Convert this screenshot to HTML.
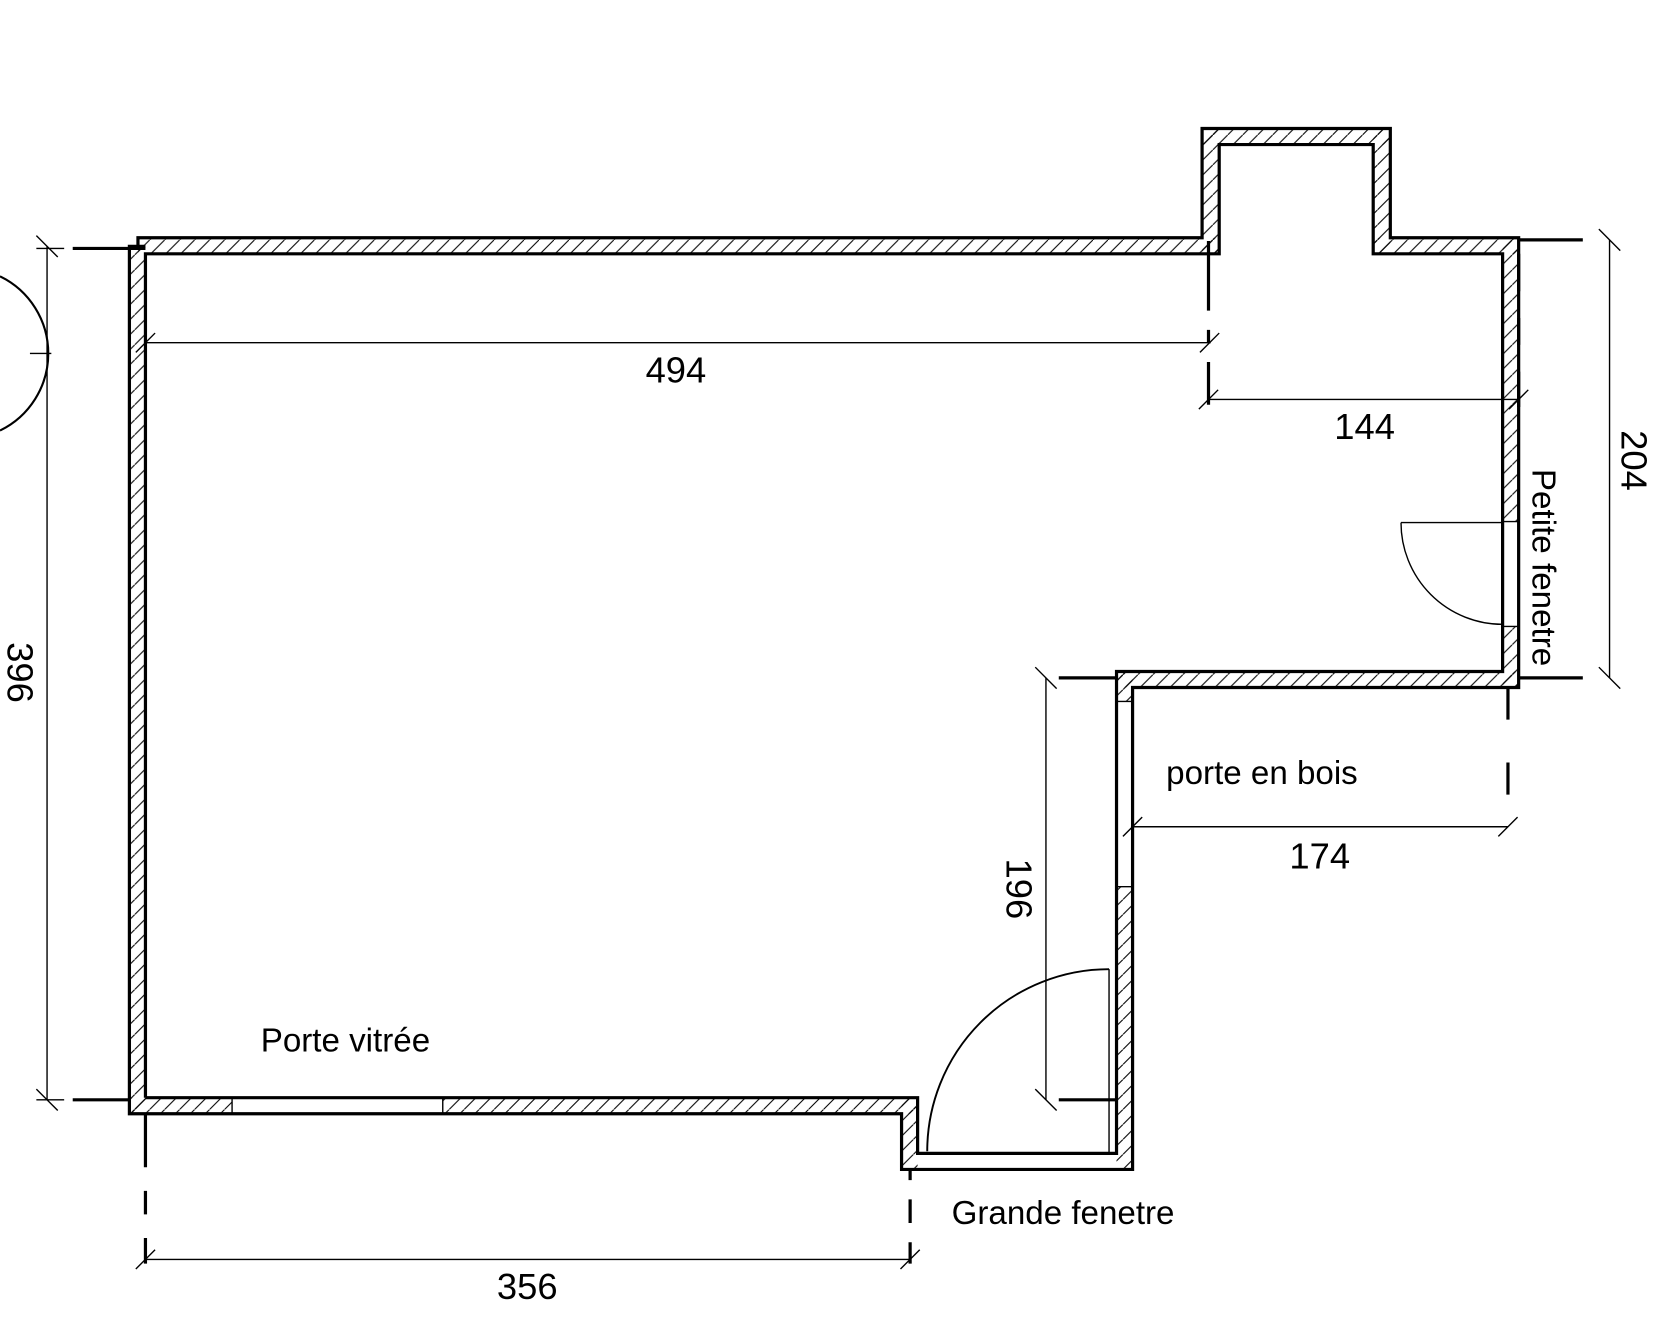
<!DOCTYPE html>
<html><head><meta charset="utf-8"><style>
html,body{margin:0;padding:0;background:#fff;}
svg{display:block;}
text{font-family:"Liberation Sans","DejaVu Sans",sans-serif;fill:#000;}
</style></head><body>
<svg width="1678" height="1344" viewBox="0 0 1569 1255" preserveAspectRatio="none" xmlns="http://www.w3.org/2000/svg">
<defs>
<pattern id="h" width="14" height="14" patternUnits="userSpaceOnUse">
<line x1="0" y1="14" x2="14" y2="0" stroke="#000" stroke-width="1"/>
</pattern>
</defs>
<rect width="1569" height="1255" fill="#fff"/>
<g fill="url(#h)" stroke="none">
<rect x="129" y="222" width="1011" height="15"/>
<rect x="121" y="230" width="15" height="810"/>
<rect x="1124" y="120" width="16" height="117"/>
<rect x="1124" y="120" width="176" height="15"/>
<rect x="1284" y="120" width="16" height="117"/>
<rect x="1284" y="222" width="136" height="15"/>
<rect x="1405" y="222" width="15" height="265"/>
<rect x="1405" y="585" width="15" height="57"/>
<rect x="1044" y="627" width="376" height="15"/>
<rect x="1044" y="627" width="15" height="28"/>
<rect x="1044" y="828" width="15" height="264"/>
<rect x="121" y="1025" width="96" height="15"/>
<rect x="414" y="1025" width="444" height="15"/>
<rect x="843" y="1025" width="15" height="67"/>
</g>
<g fill="none" stroke="#000" stroke-width="3" stroke-linejoin="miter">
<polyline points="129,230 129,222 1124,222 1124,120 1300,120 1300,222 1420,222 1420,642 1059,642 1059,1092 843,1092 843,1040 121,1040 121,230 136,230"/>
<polyline points="136,1025 136,237 1140,237 1140,135 1284,135 1284,237 1405,237 1405,627 1044,627 1044,1077 858,1077 858,1025 136,1025"/>
</g>
<g fill="none" stroke="#000" stroke-width="1.3">
<line x1="217" y1="1025" x2="217" y2="1040"/><line x1="414" y1="1025" x2="414" y2="1040"/>
<line x1="1405" y1="487" x2="1420" y2="487"/><line x1="1405" y1="585" x2="1420" y2="585"/>
<line x1="1044" y1="655" x2="1059" y2="655"/><line x1="1044" y1="828" x2="1059" y2="828"/>
<line x1="858" y1="1077" x2="1044" y2="1077"/>
<line x1="1310" y1="488" x2="1405" y2="488"/>
<path d="M1310,488 A95,95 0 0 0 1405,583"/>
<line x1="1037" y1="905" x2="1037" y2="1077"/>
<path d="M1037,905 A170,170 0 0 0 867,1075" stroke-width="1.8"/>
<line x1="44" y1="230" x2="44" y2="1027"/>
<line x1="34" y1="220" x2="54" y2="240"/><line x1="34" y1="1017" x2="54" y2="1037"/>
<line x1="34" y1="232" x2="60" y2="232"/><line x1="34" y1="1027" x2="60" y2="1027"/>
<line x1="28" y1="330" x2="48" y2="330"/>
<path d="M0,258 A80,80 0 0 1 0,402" stroke-width="2"/>
<line x1="136" y1="320" x2="1132" y2="320"/>
<line x1="127" y1="329" x2="145" y2="311"/><line x1="1122" y1="329" x2="1140" y2="311"/>
<line x1="1130" y1="373" x2="1420" y2="373"/>
<line x1="1121" y1="382" x2="1139" y2="364"/><line x1="1411" y1="382" x2="1429" y2="364"/>
<line x1="1505" y1="224" x2="1505" y2="633"/>
<line x1="1495" y1="214" x2="1515" y2="234"/><line x1="1495" y1="623" x2="1515" y2="643"/>
<line x1="1059" y1="772" x2="1410" y2="772"/>
<line x1="1050" y1="781" x2="1068" y2="763"/><line x1="1401" y1="781" x2="1419" y2="763"/>
<line x1="978" y1="633" x2="978" y2="1027"/>
<line x1="968" y1="623" x2="988" y2="643"/><line x1="968" y1="1017" x2="988" y2="1037"/>
<line x1="136" y1="1176" x2="851" y2="1176"/>
<line x1="127" y1="1185" x2="145" y2="1167"/><line x1="842" y1="1185" x2="860" y2="1167"/>
</g>
<g stroke="#000" stroke-width="3" fill="none">
<line x1="68" y1="232" x2="136" y2="232"/>
<line x1="68" y1="1027" x2="121" y2="1027"/>
<line x1="1420" y1="224" x2="1480" y2="224"/>
<line x1="1420" y1="633" x2="1480" y2="633"/>
<line x1="990" y1="633" x2="1044" y2="633"/>
<line x1="990" y1="1027" x2="1044" y2="1027"/>
<line x1="1130" y1="225" x2="1130" y2="380" stroke-dasharray="65,18,12,18,40,100"/>
<line x1="1410" y1="642" x2="1410" y2="775" stroke-dasharray="30,40,30,100"/>
<line x1="1420" y1="237" x2="1420" y2="380" stroke-dasharray="35,25,25,25,40"/>
<line x1="136" y1="1040" x2="136" y2="1180" stroke-dasharray="50,22,22,22,40"/>
<line x1="851" y1="1092" x2="851" y2="1180" stroke-dasharray="10,18,22,18,40"/>
</g>
<g font-size="34">
<text x="632" y="357" text-anchor="middle">494</text>
<text x="1276" y="410" text-anchor="middle">144</text>
<text x="1234" y="811" text-anchor="middle">174</text>
<text x="493" y="1213" text-anchor="middle">356</text>
<text transform="translate(7,628) rotate(90)" text-anchor="middle">396</text>
<text transform="translate(1516,430) rotate(90)" text-anchor="middle">204</text>
<text transform="translate(941,830) rotate(90)" text-anchor="middle">196</text>
</g>
<g font-size="31">
<text x="323" y="982" text-anchor="middle">Porte vitrée</text>
<text x="1180" y="732" text-anchor="middle">porte en bois</text>
<text x="994" y="1143" text-anchor="middle">Grande fenetre</text>
<text transform="translate(1433,530) rotate(90)" text-anchor="middle">Petite fenetre</text>
</g>
</svg>
</body></html>
